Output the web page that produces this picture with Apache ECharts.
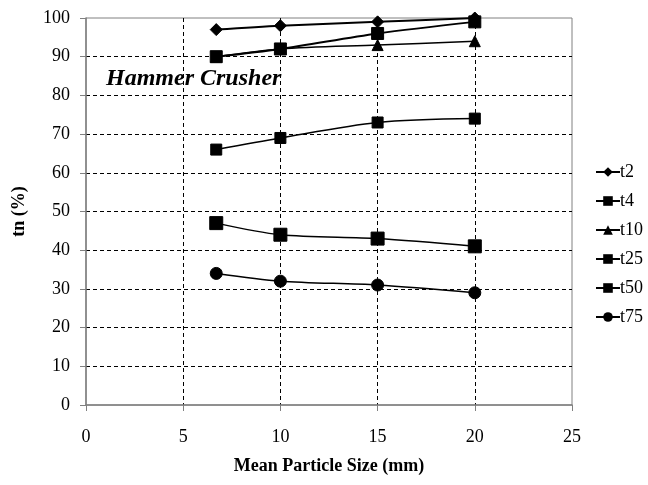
<!DOCTYPE html>
<html>
<head>
<meta charset="utf-8">
<script src="https://cdn.jsdelivr.net/npm/echarts@6/dist/echarts.min.js"></script>
<style>
  html, body { margin: 0; padding: 0; background: #fff; }
  #chart { width: 648px; height: 485px; }
</style>
</head>
<body>
<div id="chart"></div>
<script>
// mean particle size (mm)
var sizes = [6.7, 10, 15, 20];
var seriesNames = ['t2', 't4', 't10', 't25', 't50', 't75'];
var t2 = [97, 98, 99, 100];
var t4 = [90, 92, 96, 99];
var t10 = [90, 92, 93, 94];
var t25 = [66, 69, 73, 74];
var t50 = [47, 44, 43, 41];
var t75 = [34, 32, 31, 29];
var xTicks = [0, 5, 10, 15, 20, 25];
var yTicks = [0, 10, 20, 30, 40, 50, 60, 70, 80, 90, 100];

var font = 'Liberation Serif';
var symbols = ['diamond', 'rect', 'triangle', 'rect', 'rect', 'circle'];
var symbolSizes = [12, 12, 11, 11, 13, 12];
var lineWidths = [2, 2, 1.5, 1.5, 1.5, 1.5];
var values = [t2, t4, t10, t25, t50, t75];

function pairs(vals){
    return vals.map(function(v, i){ return [sizes[i], v]; });
}

var chart = echarts.init(document.getElementById('chart'));
var option = {
    animation: false,
    backgroundColor: '#fff',
    textStyle: { fontFamily: font, color: '#000' },
    grid: {
        left: 86, right: 76, top: 18, bottom: 80,
        show: true, borderColor: '#808080', borderWidth: 1
    },
    title: {
        text: 'Hammer Crusher',
        left: 101, top: 62,
        textStyle: { fontFamily: font, fontSize: 24, fontWeight: 'bold', fontStyle: 'italic', color: '#000' }
    },
    legend: {
        orient: 'vertical',
        left: 590, top: 158,
        itemWidth: 24, itemHeight: 12, itemGap: 11,
        data: seriesNames,
        textStyle: { fontFamily: font, fontSize: 18, color: '#000', padding: [0, 0, 0, -5] }
    },
    xAxis: {
        type: 'value',
        min: 0, max: 25, interval: 5,
        name: 'Mean Particle Size (mm)',
        nameLocation: 'middle', nameGap: 52,
        nameTextStyle: { fontFamily: font, fontSize: 18, fontWeight: 'bold', color: '#000' },
        axisLine: { show: true, lineStyle: { color: '#808080', width: 1.5 } },
        axisTick: { show: true, length: 6, lineStyle: { color: '#808080' } },
        axisLabel: {
            fontFamily: font, fontSize: 18, color: '#000', margin: 23,
            formatter: function(v){ return xTicks.indexOf(v) >= 0 ? String(v) : ''; }
        },
        splitLine: { show: true, showMinLine: false, showMaxLine: false, lineStyle: { color: '#000', type: [4, 3], width: 1 } }
    },
    yAxis: {
        type: 'value',
        min: 0, max: 100, interval: 10,
        name: 'tn (%)',
        nameLocation: 'middle', nameGap: 58,
        nameTextStyle: { fontFamily: font, fontSize: 18, fontWeight: 'bold', color: '#000' },
        axisLine: { show: true, lineStyle: { color: '#808080', width: 1.5 } },
        axisTick: { show: true, length: 6, lineStyle: { color: '#808080' } },
        axisLabel: {
            fontFamily: font, fontSize: 18, color: '#000', margin: 16,
            formatter: function(v){ return yTicks.indexOf(v) >= 0 ? String(v) : ''; }
        },
        splitLine: { show: true, showMinLine: false, showMaxLine: false, lineStyle: { color: '#000', type: [4, 3], width: 1 } }
    },
    series: seriesNames.map(function(name, i){
        return {
            name: name,
            type: 'line',
            smooth: 0.3,
            data: pairs(values[i]),
            symbol: symbols[i],
            symbolSize: symbolSizes[i],
            lineStyle: { color: '#000', width: lineWidths[i] },
            itemStyle: { color: '#000', borderColor: '#000' }
        };
    })
};
chart.setOption(option);
</script>
</body>
</html>
